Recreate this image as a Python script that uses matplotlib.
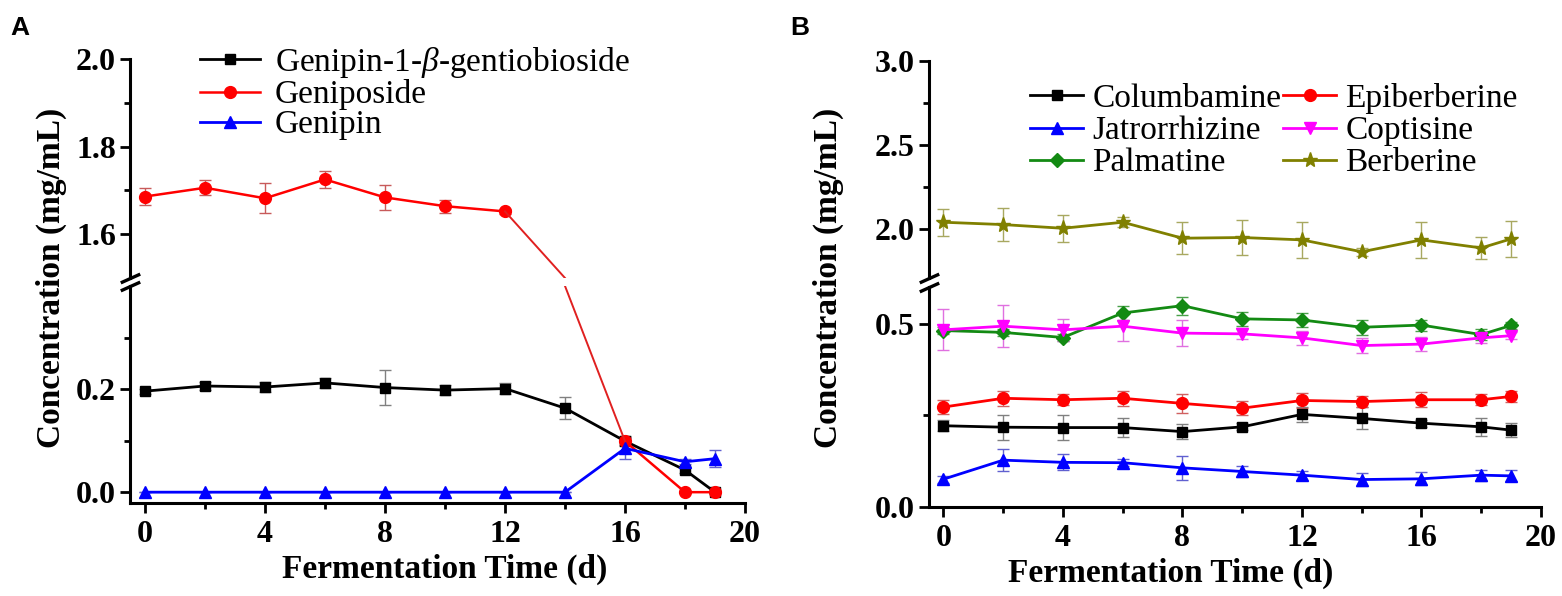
import numpy as np
import matplotlib
matplotlib.use("Agg")
import matplotlib.pyplot as plt
from matplotlib.ticker import FixedLocator, FormatStrFormatter

plt.rcParams["font.family"] = "Liberation Serif"
plt.rcParams["mathtext.fontset"] = "custom"
plt.rcParams["mathtext.rm"] = "Liberation Serif"
plt.rcParams["mathtext.it"] = "Liberation Serif:italic"

days = [0, 2, 4, 6, 8, 10, 12, 14, 16, 18, 19]

# panel A (geniposide at day 14 falls inside the axis break)
gentiobioside = [0.196, 0.206, 0.204, 0.212, 0.203, 0.198, 0.201, 0.163, 0.099, 0.043, 0.0]
gentiobioside_err = [0.005, 0.008, 0.01, 0.01, 0.034, 0.01, 0.01, 0.021, 0.01, 0.005, 0.0]
geniposide = [1.686, 1.706, 1.682, 1.725, 1.684, 1.664, 1.652, np.nan, 0.099, 0.0, 0.0]
geniposide_err = [0.019, 0.017, 0.034, 0.02, 0.028, 0.015, 0.005, 0.0, 0.008, 0.0, 0.0]
genipin = [0.0, 0.0, 0.0, 0.0, 0.0, 0.0, 0.0, 0.0, 0.085, 0.059, 0.065]
genipin_err = [0.0, 0.0, 0.0, 0.0, 0.0, 0.0, 0.0, 0.0, 0.02, 0.005, 0.017]

# panel B
columbamine = [0.222, 0.218, 0.217, 0.217, 0.206, 0.219, 0.253, 0.242, 0.229, 0.219, 0.210]
columbamine_err = [0.015, 0.034, 0.034, 0.025, 0.02, 0.01, 0.02, 0.03, 0.01, 0.025, 0.02]
epiberberine = [0.273, 0.297, 0.293, 0.297, 0.283, 0.270, 0.291, 0.288, 0.293, 0.293, 0.302]
epiberberine_err = [0.02, 0.02, 0.015, 0.02, 0.027, 0.02, 0.02, 0.015, 0.02, 0.015, 0.015]
jatrorrhizine = [0.076, 0.128, 0.122, 0.121, 0.107, 0.097, 0.087, 0.075, 0.077, 0.087, 0.085]
jatrorrhizine_err = [0.01, 0.03, 0.022, 0.01, 0.033, 0.015, 0.012, 0.018, 0.018, 0.015, 0.015]
coptisine = [0.484, 0.494, 0.484, 0.494, 0.475, 0.473, 0.462, 0.441, 0.445, 0.462, 0.468]
coptisine_err = [0.056, 0.058, 0.03, 0.04, 0.035, 0.015, 0.02, 0.02, 0.02, 0.015, 0.01]
palmatine = [0.482, 0.477, 0.463, 0.530, 0.550, 0.514, 0.511, 0.491, 0.497, 0.471, 0.496]
palmatine_err = [0.01, 0.01, 0.01, 0.02, 0.025, 0.02, 0.02, 0.02, 0.015, 0.015, 0.01]
berberine = [2.040, 2.026, 2.004, 2.040, 1.945, 1.949, 1.935, 1.864, 1.935, 1.887, 1.941]
berberine_err = [0.08, 0.10, 0.08, 0.03, 0.095, 0.105, 0.105, 0.025, 0.105, 0.065, 0.105]

W, H = 1562, 596
fig = plt.figure(figsize=(W / 100, H / 100), dpi=100)


def box(left, right, top, bottom):
    return [left / W, 1 - bottom / H, (right - left) / W, (bottom - top) / H]


def style(ax, upper, major, minor):
    for s in ["top", "right"]:
        ax.spines[s].set_visible(False)
    for s in ["left", "bottom"]:
        ax.spines[s].set_linewidth(2.2)
    ax.set_xlim(-0.5, 20)
    ax.yaxis.set_major_locator(FixedLocator(major))
    ax.yaxis.set_minor_locator(FixedLocator(minor))
    ax.yaxis.set_major_formatter(FormatStrFormatter("%.1f"))
    ax.tick_params(which="major", direction="out", length=7, width=2, labelsize=23, pad=3)
    ax.tick_params(which="minor", direction="out", length=4, width=2)
    ax.set_xticks([0, 4, 8, 12, 16, 20])
    ax.set_xticks([2, 6, 10, 14, 18], minor=True)
    if upper:
        ax.spines["bottom"].set_visible(False)
        ax.tick_params(axis="x", which="both", bottom=False, labelbottom=False)
    else:
        ax.tick_params(axis="x", which="major", pad=5)
    for lab in ax.get_xticklabels() + ax.get_yticklabels():
        lab.set_fontweight("bold")


def series(ax, y, err, color, ecolor, marker, ms, lw=2.0):
    ax.errorbar(days, y, yerr=err, fmt="none", ecolor=ecolor, elinewidth=1.0,
                capsize=4, capthick=1.0, zorder=2)
    line, = ax.plot(days, y, color=color, lw=lw, marker=marker, ms=ms,
                    mec=color, mfc=color, zorder=3)
    return line


def break_marks(ax, where):
    kw = dict(marker=[(-1, -0.45), (1, 0.45)], markersize=14, linestyle="none",
              color="k", mec="k", mew=2.4, clip_on=False, transform=ax.transAxes, zorder=10)
    ax.plot([0], [where], **kw)


# ---------------- panel A ----------------
axA_up = fig.add_axes(box(130, 745, 59, 278))
axA_lo = fig.add_axes(box(130, 745, 286, 503))
axA_up.set_ylim(1.5, 2.0)
axA_lo.set_ylim(-0.021, 0.40)

for ax in (axA_up, axA_lo):
    hA1 = series(ax, gentiobioside, gentiobioside_err, "black", "#808080", "s", 7.5)
    hA2 = series(ax, geniposide, geniposide_err, "#ff0000", "#c85a5a", "o", 8.5, lw=1.8)
    hA3 = series(ax, genipin, genipin_err, "#0000ff", "#6060d0", "^", 8.5)

# geniposide line crossing the break between day 12 and day 16
axA_up.plot([days[6], days[7]], [geniposide[6], axA_up.get_ylim()[0]],
            color="#e02020", lw=1.4, zorder=3)
axA_lo.plot([days[7], days[8]], [axA_lo.get_ylim()[1], geniposide[8]],
            color="#e02020", lw=1.4, zorder=3)

style(axA_up, True, [1.6, 1.8, 2.0], [1.7, 1.9])
style(axA_lo, False, [0.0, 0.2], [0.1, 0.3])
break_marks(axA_up, 0.0)
break_marks(axA_lo, 1.0)

axA_up.legend([hA1, hA2, hA3],
              ["Genipin-1-$\\it{\\beta}$-gentiobioside", "Geniposide", "Genipin"],
              loc="upper left", bbox_to_anchor=(200 / W, 1 - 45 / H),
              bbox_transform=fig.transFigure, frameon=False, fontsize=24,
              handlelength=1.8, handletextpad=0.45, labelspacing=-0.02,
              borderpad=0, borderaxespad=0, numpoints=1)

# ---------------- panel B ----------------
axB_up = fig.add_axes(box(928.5, 1541, 61, 278))
axB_lo = fig.add_axes(box(928.5, 1541, 287, 507))
axB_up.set_ylim(1.708, 3.0)
axB_lo.set_ylim(0.0, 0.601)

for ax in (axB_up, axB_lo):
    hB1 = series(ax, columbamine, columbamine_err, "black", "#808080", "s", 7.5)
    hB2 = series(ax, jatrorrhizine, jatrorrhizine_err, "#0000ff", "#6060d0", "^", 8.5)
    hB3 = series(ax, palmatine, palmatine_err, "#138a13", "#4aa04a", "D", 7)
    hB4 = series(ax, epiberberine, epiberberine_err, "#ff0000", "#d06060", "o", 8.5)
    hB5 = series(ax, coptisine, coptisine_err, "#ff00ff", "#e070e0", "v", 8.5)
    hB6 = series(ax, berberine, berberine_err, "#808000", "#a8a860", "*", 11)

style(axB_up, True, [2.0, 2.5, 3.0], [2.25, 2.75])
style(axB_lo, False, [0.0, 0.5], [0.25])
break_marks(axB_up, 0.0)
break_marks(axB_lo, 1.0)

axB_up.legend([hB1, hB2, hB3, hB4, hB5, hB6],
              ["Columbamine", "Jatrorrhizine", "Palmatine",
               "Epiberberine", "Coptisine", "Berberine"],
              ncol=2, loc="upper left", bbox_to_anchor=(1030 / W, 1 - 83 / H),
              bbox_transform=fig.transFigure, frameon=False, fontsize=24,
              handlelength=1.6, handletextpad=0.27, labelspacing=0.05,
              columnspacing=0.05, borderpad=0, borderaxespad=0, numpoints=1)

# ---------------- shared text ----------------
for x in (51, 828):
    fig.text(x / W, 1 - 278 / H, "Concentration (mg/mL)", rotation=90,
             ha="center", va="center", fontsize=24, fontweight="bold")
fig.text(445 / W, 1 - 578 / H, "Fermentation Time (d)", ha="center",
         va="baseline", fontsize=24, fontweight="bold")
fig.text(1171 / W, 1 - 582 / H, "Fermentation Time (d)", ha="center",
         va="baseline", fontsize=24, fontweight="bold")
fig.text(10 / W, 1 - 28 / H, "A", fontfamily="Liberation Sans", fontweight="bold",
         fontsize=19, va="center", ha="left")
fig.text(790 / W, 1 - 28 / H, "B", fontfamily="Liberation Sans", fontweight="bold",
         fontsize=19, va="center", ha="left")

fig.savefig("out.png", dpi=100)
